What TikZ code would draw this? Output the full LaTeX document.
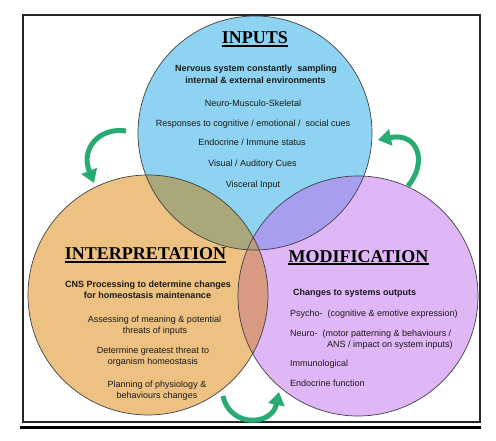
\documentclass[tikz,border=0pt]{standalone}
\usepackage{fontspec}
\setmainfont{Liberation Sans}
\newfontfamily\titlefont{Liberation Serif}
\usetikzlibrary{arrows.meta}
\definecolor{cblue}{HTML}{8ED3F1}
\definecolor{corange}{HTML}{EDC182}
\definecolor{cpurple}{HTML}{DFB6F6}
\definecolor{cbo}{HTML}{AAA87B}
\definecolor{cbp}{HTML}{A89EF0}
\definecolor{cop}{HTML}{D89A82}
\definecolor{cbop}{HTML}{BE9A80}
\definecolor{cgreen}{HTML}{27AB73}
\definecolor{ctext}{HTML}{1A1A1A}
\begin{document}
\begin{tikzpicture}[x=1pt,y=-1pt,
  ring/.style={draw=black!75,line width=0.7pt},
  title/.style={font=\titlefont\bfseries\fontsize{18}{20}\selectfont,inner sep=0pt,anchor=base,text=black},
  uline/.style={line width=1.6pt,black},
  head/.style={font=\bfseries\fontsize{9}{11}\selectfont,inner sep=0pt,anchor=base,text=ctext},
  item/.style={font=\fontsize{9}{11}\selectfont,inner sep=0pt,anchor=base,text=ctext},
  itemL/.style={item,anchor=base west},
  headL/.style={head,anchor=base west},
  cycle/.style={draw=cgreen,line width=5pt,-{Triangle[width=16pt,length=13pt]}}]
\useasboundingbox (0,0) rectangle (496,441);
\fill[white] (0,0) rectangle (496,441);
% frame
\draw[line width=1.4pt,black!85] (23,15) rectangle (480,422);
\draw[line width=2.6pt,black] (20,427.5) -- (481,427.5);
% circle centres
\coordinate (cI) at (255,133);
\coordinate (cN) at (148,295);
\coordinate (cM) at (358,296);
% fills
\fill[cblue] (cI) circle[radius=117];
\fill[corange] (cN) circle[radius=120];
\fill[cpurple] (cM) circle[radius=120];
\begin{scope}
  \clip (cI) circle[radius=117];
  \fill[cbo] (cN) circle[radius=120];
  \fill[cbp] (cM) circle[radius=120];
\end{scope}
\begin{scope}
  \clip (cN) circle[radius=120];
  \fill[cop] (cM) circle[radius=120];
  \clip (cM) circle[radius=120];
  \fill[cbop] (cI) circle[radius=117];
\end{scope}
\draw[ring] (cI) circle[radius=117];
\draw[ring] (cN) circle[radius=120];
\draw[ring] (cM) circle[radius=120];
% titles
\node[title] (tI) at (255,44) {INPUTS};
\draw[uline] ([yshift=-2.2pt]tI.base west) -- ([yshift=-2.2pt]tI.base east);
\node[title] (tN) at (145.5,260) {INTERPRETATION};
\draw[uline] ([yshift=-2.2pt]tN.base west) -- ([yshift=-2.2pt]tN.base east);
\node[title] (tM) at (358.5,262) {MODIFICATION};
\draw[uline] ([yshift=-2.2pt]tM.base west) -- ([yshift=-2.2pt]tM.base east);
% inputs text
\node[head] (i1) at (256,71.5) {Nervous system constantly\ \ sampling};
\node[head] (i2) at (255.5,83.5) {internal \& external environments};
\node[item] (i3) at (253,106.5) {Neuro-Musculo-Skeletal};
\node[item] (i4) at (253,126.5) {Responses to cognitive / emotional /\ \ social cues};
\node[item] (i5) at (252,145.5) {Endocrine / Immune status};
\node[item] (i6) at (252.5,166.5) {Visual / Auditory Cues};
\node[item] (i7) at (253,187.5) {Visceral Input};
% interpretation text
\node[head] (n1) at (148,287.5) {CNS Processing to determine changes};
\node[head] (n2) at (147.5,298.5) {for homeostasis maintenance};
\node[item] (n3) at (154.5,322.5) {Assessing of meaning \& potential};
\node[item] (n4) at (155,333.5) {threats of inputs};
\node[item] (n5) at (153,353.5) {Determine greatest threat to};
\node[item] (n6) at (153,364.5) {organism homeostasis};
\node[item] (n7) at (157,387.5) {Planning of physiology \&};
\node[item] (n8) at (157,398.5) {behaviours changes};
% modification text
\node[headL] (m1) at (293,295.5) {Changes to systems outputs};
\node[itemL] (m2) at (290,316.5) {Psycho-\ \ (cognitive \& emotive expression)};
\node[itemL] (m3) at (290,336.5) {Neuro-\ \ (motor patterning \& behaviours /};
\node[itemL] (m4) at (327,347.5) {ANS / impact on system inputs)};
\node[itemL] (m5) at (290,366.5) {Immunological};
\node[itemL] (m6) at (290,386.5) {Endocrine function};
% cycle arrows
\coordinate (a1s) at (126,131);
\coordinate (a1e) at (94,183);
\draw[cycle] (a1s) .. controls (100,127) and (80,148) .. (a1e);
\coordinate (a2s) at (408,186);
\coordinate (a2e) at (378,140);
\draw[cycle] (a2s) .. controls (428,162) and (418,132) .. (a2e);
\coordinate (a3s) at (223,396);
\coordinate (a3e) at (279,392);
\draw[cycle] (a3s) .. controls (230,428) and (272,426) .. (a3e);
\end{tikzpicture}
\end{document}
